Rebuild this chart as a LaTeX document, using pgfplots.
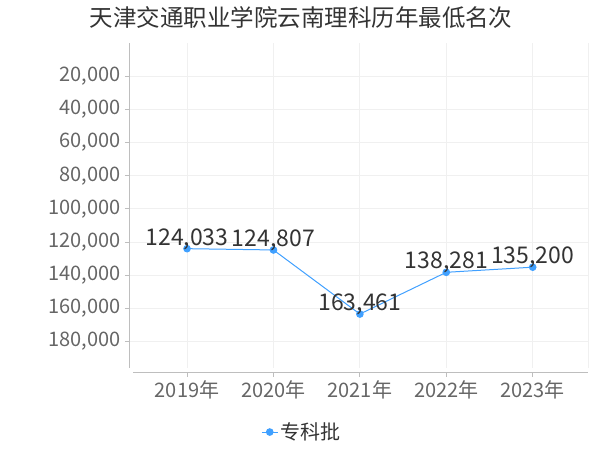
\documentclass[border=0pt]{standalone}
\usepackage{fontspec}
\setmainfont{Noto Sans CJK SC}
\usepackage{pgfplots}
\pgfplotsset{compat=1.18}
\definecolor{lineblue}{RGB}{64,160,255}
\definecolor{tickgray}{RGB}{102,102,102}
\definecolor{labeldark}{RGB}{51,51,51}
\definecolor{axgray}{RGB}{190,190,190}
\definecolor{gridgray}{RGB}{240,240,240}
\begin{document}
\begin{tikzpicture}[x=1pt,y=1pt]
\path[use as bounding box] (0,0) rectangle (600,450);
\node[font=\fontsize{23.5}{27}\selectfont, text=labeldark] at (301,432) {天津交通职业学院云南理科历年最低名次};
\begin{axis}[
    at={(130pt,82pt)}, anchor=south west,
    width=458pt, height=325pt, scale only axis,
    y dir=reverse,
    ymin=0, ymax=196000,
    xmin=-0.66, xmax=4.64,
    scaled y ticks=false,
    ytick={20000,40000,60000,80000,100000,120000,140000,160000,180000},
    yticklabels={{20,000},{40,000},{60,000},{80,000},{100,000},{120,000},{140,000},{160,000},{180,000}},
    xtick={0,1,2,3,4},
    xticklabels={2019年,2020年,2021年,2022年,2023年},
    axis line style={draw=none},
    grid=major,
    major grid style={draw=gridgray, line width=0.8pt},
    tick align=outside,
    ytick pos=left,
    major tick length=5pt,
    ytick style={draw=axgray, line width=0.8pt},
    xtick style={draw=none},
    ticklabel style={font=\fontsize{20}{23}\selectfont, text=tickgray},
    xticklabel style={yshift=-4pt},
    yticklabel style={xshift=-1pt},
    legend style={at={(0.375,-0.197)}, anchor=center, draw=none, fill=none,
        font=\fontsize{20}{23}\selectfont, text=labeldark,
        legend cell align=left},
    legend image code/.code={
        \draw[#1, mark=none] (0pt,0pt) -- (16pt,0pt);
        \fill[lineblue] (8pt,0pt) circle (3.3pt);
    },
    nodes near coords,
    point meta=explicit symbolic,
    nodes near coords style={anchor=base, inner sep=0pt, yshift=3.5pt,
        font=\fontsize{23}{27}\selectfont, text=labeldark},
    clip=false,
]
\addplot[color=lineblue, line width=1pt, mark=*, mark size=3.3pt,
    mark options={fill=lineblue, draw=lineblue}] coordinates {
    (0,124033) [124,033]
    (1,124807) [124,807]
    (2,163461) [163,461]
    (3,138281) [138,281]
    (4,135200) [135,200]
};
\addlegendentry{专科批}
\draw[gridgray, line width=0.8pt] (rel axis cs:1,0) -- (rel axis cs:1,1);
\pgfplotsinvokeforeach{0,...,4}{
    \draw[axgray, line width=0.8pt] ([yshift=-4pt]axis cs:#1,196000) -- ([yshift=-9pt]axis cs:#1,196000);
}
\end{axis}
\draw[axgray, line width=0.9pt] (129.5,82) -- (129.5,407);
\draw[axgray, line width=0.9pt] (133,78) -- (588,78);
\end{tikzpicture}
\end{document}
